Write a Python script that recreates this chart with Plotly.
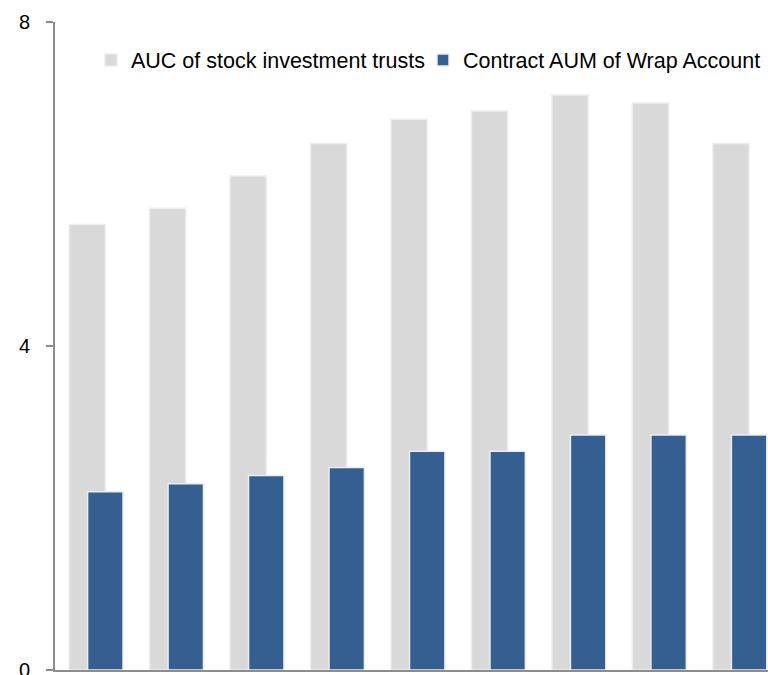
"""Grafico de barras superpuestas: AUC vs Wrap Account."""

import plotly.graph_objects as go

COLOR_GRAY = "#D9D9D9"
COLOR_BLUE = "#355F91"
COLOR_AXIS = "#8C8C8C"
COLOR_EDGE = "#EDEDED"

periods = list(range(9))
auc_stock_trusts = [5.5, 5.7, 6.1, 6.5, 6.8, 6.9, 7.1, 7.0, 6.5]
wrap_contract_aum = [2.2, 2.3, 2.4, 2.5, 2.7, 2.7, 2.9, 2.9, 2.9]
y_ticks = [0, 4, 8]

W, H = 768, 675


def _legend(x_px: float) -> dict:
    # Una leyenda por serie para poder ubicar cada entrada en una sola fila
    return {
        "xref": "container",
        "yref": "container",
        "x": x_px / W,
        "xanchor": "left",
        "y": 1 - 60 / H,
        "yanchor": "middle",
        "font": {"size": 21.5},
        "bgcolor": "rgba(0,0,0,0)",
        "itemwidth": 30,
        "borderwidth": 0,
    }


fig = go.Figure()
fig.add_trace(
    go.Bar(
        x=periods,
        y=auc_stock_trusts,
        name="AUC of stock investment trusts",
        width=0.45,
        offset=-0.335,
        legend="legend",
        marker={"color": COLOR_GRAY, "line": {"color": COLOR_EDGE, "width": 1.5}},
    )
)
fig.add_trace(
    go.Bar(
        x=periods,
        y=wrap_contract_aum,
        name="Contract AUM of Wrap Account",
        width=0.44,
        offset=-0.105,
        legend="legend2",
        marker={"color": COLOR_BLUE, "line": {"color": COLOR_EDGE, "width": 1.5}},
    )
)

fig.update_layout(
    barmode="overlay",
    width=W,
    height=H,
    margin={"l": 55, "r": 0, "t": 22, "b": 5, "autoexpand": False},
    plot_bgcolor="white",
    paper_bgcolor="white",
    font={"family": "Liberation Sans, Arial, sans-serif", "size": 20, "color": "#000000"},
    showlegend=True,
    legend=_legend(91),
    legend2=_legend(423),
    xaxis={
        "range": [-0.51, 8.35],
        "showticklabels": False,
        "showgrid": False,
        "zeroline": False,
        "showline": True,
        "linecolor": COLOR_AXIS,
        "linewidth": 2,
        "ticks": "",
    },
    yaxis={
        "range": [0, 8],
        "tickvals": y_ticks,
        "showgrid": False,
        "zeroline": False,
        "showline": True,
        "linecolor": COLOR_AXIS,
        "linewidth": 2,
        "ticks": "outside",
        "ticklen": 7,
        "tickwidth": 2,
        "tickcolor": COLOR_AXIS,
        "ticklabelstandoff": 12,
        "ticklabeloverflow": "allow",
    },
)

fig.write_html(
    "out.html",
    config={"displayModeBar": False},
    post_script="document.body.style.margin='0';",
)
